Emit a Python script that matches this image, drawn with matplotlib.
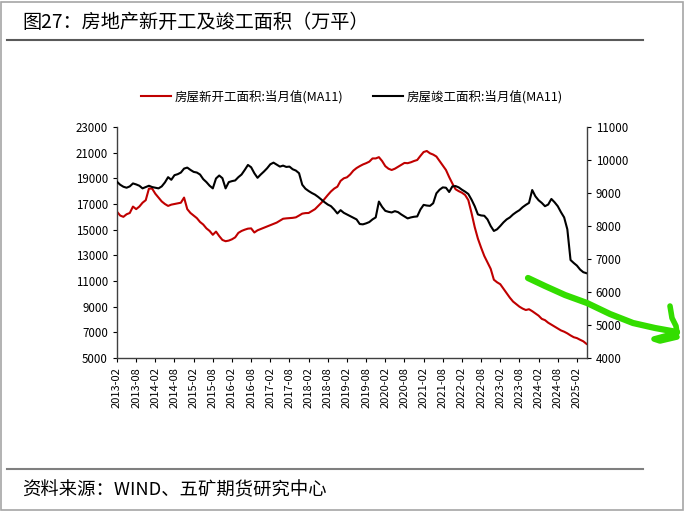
import matplotlib
matplotlib.use('Agg')
import matplotlib.pyplot as plt
from matplotlib.lines import Line2D
import numpy as np
import pandas as pd

plt.rcParams['font.family'] = ['Noto Sans CJK SC', 'DejaVu Sans']
plt.rcParams['axes.unicode_minus'] = False

# 月度数据 2013-02 ~ 2025-05
months = pd.date_range('2013-02-01', '2025-05-01', freq='MS').strftime('%Y-%m').tolist()

new_start = [
    16400, 16100, 16000, 16200, 16300, 16800, 16600, 16800, 17100, 17300,
    18200, 18200, 17800, 17500, 17200, 17000, 16850, 16950, 17000, 17050,
    17100, 17500, 16600, 16300, 16100, 15900, 15600, 15400, 15100, 14900,
    14600, 14850, 14500, 14200, 14100, 14150, 14250, 14400, 14750, 14900,
    15000, 15080, 15100, 14780, 14950, 15050, 15150, 15250, 15350, 15450,
    15550, 15700, 15850, 15880, 15900, 15920, 15960, 16100, 16250, 16290,
    16300, 16450, 16600, 16850, 17100, 17400, 17700, 17980, 18200, 18350,
    18800, 19000, 19080, 19300, 19600, 19800, 19950, 20080, 20180, 20300,
    20550, 20550, 20650, 20350, 19950, 19750, 19650, 19750, 19900, 20050,
    20200, 20180, 20250, 20350, 20430, 20750, 21050, 21130, 20950, 20850,
    20700, 20350, 20000, 19650, 19100, 18600, 18150, 18000, 17880, 17700,
    17300, 16300, 15200, 14300, 13600, 12950, 12450, 11950, 11100, 10900,
    10750, 10400, 10050, 9700, 9400, 9200, 9000, 8850, 8740, 8800,
    8650, 8480, 8300, 8050, 7950, 7750, 7600, 7450, 7310, 7150,
    7050, 6920, 6760, 6620, 6550, 6420, 6300, 6100,
]

completed = [
    9340, 9250, 9190, 9160, 9200, 9290, 9260, 9220, 9140, 9180,
    9220, 9180, 9160, 9140, 9200, 9320, 9480, 9400, 9540, 9570,
    9620, 9740, 9770, 9700, 9640, 9620, 9560, 9420, 9330, 9220,
    9140, 9440, 9530, 9450, 9140, 9330, 9360, 9380, 9480, 9560,
    9700, 9850, 9780, 9600, 9460, 9560, 9650, 9750, 9870, 9920,
    9860, 9800, 9830, 9790, 9800, 9720, 9680, 9600, 9250, 9130,
    9060, 9000, 8950, 8880, 8800, 8720, 8650, 8600, 8500, 8380,
    8480, 8400, 8350, 8300, 8250, 8200, 8060, 8050, 8080, 8120,
    8200, 8260, 8740, 8580, 8460, 8430, 8410, 8450, 8420, 8350,
    8290, 8230, 8260, 8280, 8290, 8500, 8640, 8620, 8610, 8690,
    8990, 9100, 9170, 9160, 9030, 9200, 9210, 9170, 9100, 9040,
    8970, 8800, 8600, 8350, 8320, 8310, 8200, 8000, 7850, 7900,
    8000, 8110, 8200, 8260, 8350, 8420, 8480, 8570, 8640, 8700,
    9090, 8900, 8780, 8700, 8600, 8650, 8820, 8720, 8600, 8420,
    8260, 7900, 6970, 6880, 6800, 6680, 6600, 6570,
]

label_new = '房屋新开工面积:当月值(MA11)'
label_done = '房屋竣工面积:当月值(MA11)'

W, H = 687, 511
fig = plt.figure(figsize=(W / 100, H / 100), dpi=100)

# 外框、标题和分隔线（像素坐标）
fig.add_artist(plt.Rectangle((1 / W, 1 / H), (W - 5) / W, (H - 3) / H, transform=fig.transFigure,
                             fill=False, edgecolor='#a6a6a6', linewidth=1.2))
fig.add_artist(Line2D([7 / W, 643 / W], [1 - 40.5 / H, 1 - 40.5 / H], color='#595959', linewidth=1.5))
fig.add_artist(Line2D([7 / W, 643 / W], [1 - 469 / H, 1 - 469 / H], color='#7f7f7f', linewidth=1.5))
fig.text(22 / W, 1 - 22 / H, '图27：房地产新开工及竣工面积（万平）', fontsize=13.8, va='center', ha='left')
fig.text(22 / W, 1 - 490 / H, '资料来源：WIND、五矿期货研究中心', fontsize=13.2, va='center', ha='left')

ax = fig.add_axes([117 / W, 1 - 358 / H, (586.5 - 117) / W, (358 - 127) / H])
ax2 = ax.twinx()

x = np.arange(len(months))
l1, = ax.plot(x, new_start, color='#c00000', linewidth=1.5)
l2, = ax2.plot(x, completed, color='black', linewidth=1.5)

ax.set_xlim(0, len(months) - 1)
ax.set_ylim(5000, 23000)
ax.set_yticks(np.arange(5000, 23001, 2000))
ax2.set_ylim(4000, 11000)
ax2.set_yticks(np.arange(4000, 11001, 1000))

ticks = x[::6]
ax.set_xticks(ticks)
ax.set_xticklabels([months[i] for i in ticks], rotation=90, fontsize=8)
ax.tick_params(axis='y', labelsize=8.3, direction='out', length=3, colors='#000000')
ax2.tick_params(axis='y', labelsize=8.3, direction='out', length=3)
ax.tick_params(axis='x', direction='out', length=3)

for a in (ax, ax2):
    a.spines['top'].set_visible(False)
    for s in ('left', 'right', 'bottom'):
        a.spines[s].set_color('#404040')
        a.spines[s].set_linewidth(1.0)
ax.spines['right'].set_visible(False)
ax2.spines['left'].set_visible(False)
ax2.spines['bottom'].set_visible(False)

fig.legend([l1, l2], [label_new, label_done], loc='center', ncol=2, frameon=False,
           bbox_to_anchor=(352 / W, 1 - 97 / H), fontsize=9, handlelength=2.4,
           columnspacing=2.4, handletextpad=0.3)

# 手绘绿色箭头
arrow_x = [528, 545, 565, 587, 610, 633, 655, 677]
arrow_y = [278, 286, 295, 303, 314, 323, 328, 332]
fig.add_artist(Line2D([v / W for v in arrow_x], [1 - v / H for v in arrow_y],
                      color='#33dd00', linewidth=4.5, solid_capstyle='round', solid_joinstyle='round'))
head_x = [670, 672, 676, 677, 665, 654, 660, 677]
head_y = [306, 318, 326, 333, 336, 339, 341, 337]
fig.add_artist(Line2D([v / W for v in head_x], [1 - v / H for v in head_y],
                      color='#33dd00', linewidth=4.0, solid_capstyle='round', solid_joinstyle='round'))

fig.savefig('out.png', dpi=100)
